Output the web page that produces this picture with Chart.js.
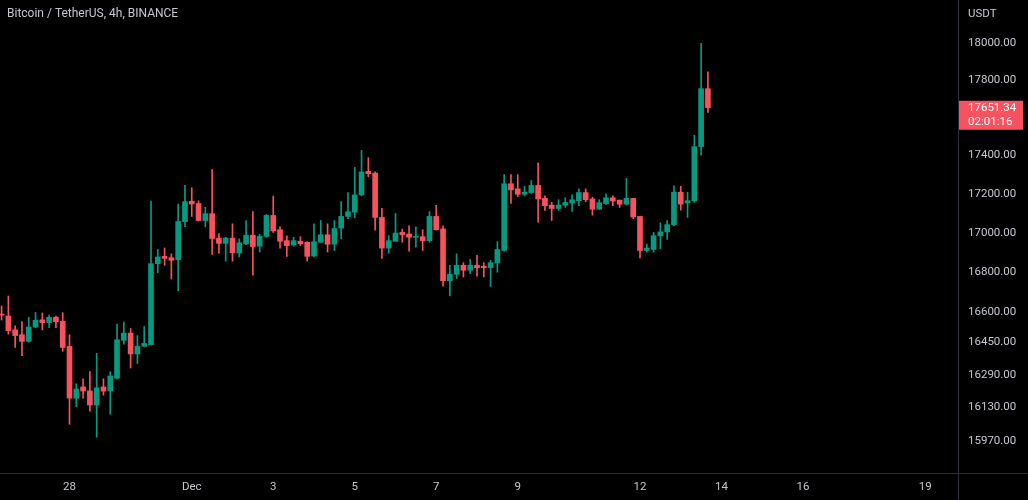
<!doctype html>
<html lang="en">
<head>
<meta charset="utf-8">
<title>Bitcoin / TetherUS, 4h, BINANCE</title>
<script src="https://cdn.jsdelivr.net/npm/chart.js@4.4.0/dist/chart.umd.min.js"></script>
<style>
  html, body { margin: 0; padding: 0; background: #000; }
  #wrap { width: 1028px; height: 500px; }
</style>
</head>
<body>
<div id="wrap"><canvas id="btc"></canvas></div>
<script>
// 4h candles, Nov 26 08:00 .. Dec 13 16:00
const openP = [16590,16580,16511,16487,16454,16525,16561,16547,16574,16554,
  16429,16175,16230,16211,16142,16230,16211,16273,16459,16495,
  16392,16430,16438,16843,16880,16873,16863,17057,17162,17150,
  17063,17098,16973,16946,16973,16897,16944,16988,16932,16982,
  17089,17016,16960,16938,16957,16952,16882,16952,16990,16942,
  17024,17084,17106,17195,17317,17308,17079,16922,16957,17002,
  16994,16977,16980,16960,17084,17020,16757,16790,16835,16810,
  16835,16830,16823,16846,16910,17253,17226,17198,17207,17244,
  17177,17142,17125,17142,17153,17165,17207,17174,17121,17150,
  17180,17168,17147,17177,17084,16910,16915,16985,17005,17041,
  17209,17153,17164,17446,17753];
const highP = [16630,16680,16531,16552,16574,16598,16595,16585,16580,16597,
  16487,16246,16270,16305,16395,16270,16305,16540,16550,16518,
  16483,16528,17163,16915,16923,16893,17148,17245,17232,17164,
  17131,17326,16996,16977,17046,16969,17063,17109,16993,17094,
  17189,17031,16985,16977,16980,16955,17046,17063,17046,17063,
  17160,17207,17338,17426,17388,17314,17125,16985,17099,17019,
  17036,17031,17016,17109,17141,17036,16835,16893,16848,16864,
  16885,16848,16860,16955,17300,17300,17300,17240,17269,17362,
  17190,17157,17170,17180,17195,17226,17226,17183,17170,17200,
  17190,17168,17280,17177,17084,16943,17002,17051,17063,17242,
  17240,17209,17506,17997,17843];
const lowP = [16560,16490,16424,16384,16450,16522,16511,16522,16522,16405,
  16049,16134,16176,16113,15987,16190,16098,16270,16440,16323,
  16345,16430,16437,16797,16835,16765,16707,17031,17084,17060,
  17031,16890,16896,16856,16856,16877,16940,16785,16902,16977,
  17002,16922,16880,16932,16935,16856,16877,16952,16902,16910,
  16969,17072,17077,17191,17289,17014,16870,16897,16957,16952,
  16907,16927,16910,16952,17014,16730,16680,16768,16776,16793,
  16780,16776,16728,16800,16906,17151,17186,17190,17204,17054,
  17115,17063,17115,17130,17110,17139,17160,17090,17121,17146,
  17139,17130,17142,17072,16872,16902,16902,16918,16966,17037,
  17116,17079,17156,17402,17626];
const closeP = [16585,16507,16483,16454,16525,16559,16547,16574,16552,16424,
  16176,16220,16210,16142,16226,16210,16284,16462,16495,16392,
  16430,16444,16843,16877,16870,16860,17058,17160,17148,17063,
  17098,16971,16946,16973,16898,16949,16988,16930,16982,17089,
  17010,16957,16935,16960,16944,16880,16955,16990,16942,17022,
  17084,17108,17195,17314,17305,17079,16922,16960,16999,16990,
  16977,16980,16960,17084,17016,16757,16790,16835,16810,16835,
  16823,16823,16848,16915,17253,17221,17198,17209,17244,17174,
  17139,17125,17142,17156,17170,17207,17170,17121,17155,17180,
  17163,17147,17177,17081,16910,16922,16985,17005,17042,17209,
  17147,17165,17446,17753,17651.34];

const priceTicks = [15970,16130,16290,16450,16600,16800,17000,17200,17400,17600,17800,18000];
// x axis is counted in days from Nov 28 00:00
const dayTicks = [0,3,5,7,9,11,14,16,18,21];
const dayLabels = ['28','Dec','3','5','7','9','12','14','16','19'];
const firstCandleDay = -10/6;
const candleStep = 4/24;
const countdown = '02:01:16';

const UP = '#089981', DOWN = '#f7525f';
const TEXT = '#c4c7cf', LINE = '#2a2e39';
const FONT = 'Roboto, "Liberation Sans", sans-serif';

const xs = openP.map((_, i) => firstCandleDay + i * candleStep);
const colorOf = i => closeP[i] >= openP[i] ? UP : DOWN;
const wicks = xs.map((x, i) => ({x: x, y: [lowP[i], highP[i]]}));
const bodies = xs.map((x, i) => ({x: x, y: [Math.min(openP[i], closeP[i]), Math.max(openP[i], closeP[i])]}));

// no edge padding for the tick labels, the plot runs to the canvas edges
function noPad(s) {
  s.paddingTop = 0; s.paddingBottom = 0; s.paddingLeft = 0; s.paddingRight = 0;
}

const overlay = {
  id: 'overlay',
  afterDraw(chart) {
    const ctx = chart.ctx, area = chart.chartArea;
    ctx.save();
    ctx.strokeStyle = LINE;
    ctx.lineWidth = 1;
    ctx.beginPath();
    ctx.moveTo(Math.round(area.right) + 0.5, 0);
    ctx.lineTo(Math.round(area.right) + 0.5, chart.height);
    ctx.moveTo(0, Math.round(area.bottom) + 0.5);
    ctx.lineTo(chart.width, Math.round(area.bottom) + 0.5);
    ctx.stroke();

    ctx.fillStyle = TEXT;
    ctx.textAlign = 'left';
    ctx.textBaseline = 'middle';
    ctx.font = '12px ' + FONT;
    ctx.fillText('Bitcoin / TetherUS, 4h, BINANCE', 7, 14);
    ctx.font = '11.5px ' + FONT;
    ctx.fillText('USDT', area.right + 10, 14);

    const last = closeP.length - 1;
    const y = chart.scales.y.getPixelForValue(closeP[last]);
    ctx.fillStyle = colorOf(last);
    ctx.fillRect(area.right + 1, y - 7, 64, 29);
    ctx.fillStyle = '#ffffff';
    ctx.fillText(closeP[last].toFixed(2), area.right + 10, y);
    ctx.fillText(countdown, area.right + 10, y + 14);
    ctx.restore();
  }
};

new Chart(document.getElementById('btc'), {
  type: 'bar',
  data: {
    datasets: [
      {
        data: wicks,
        grouped: false,
        barThickness: 1,
        backgroundColor: c => colorOf(c.dataIndex)
      },
      {
        data: bodies,
        grouped: false,
        barThickness: 5,
        minBarLength: 1,
        backgroundColor: c => colorOf(c.dataIndex)
      }
    ]
  },
  options: {
    responsive: true,
    maintainAspectRatio: false,
    animation: false,
    layout: { padding: 0 },
    plugins: { legend: { display: false }, tooltip: { enabled: false } },
    scales: {
      x: {
        type: 'linear',
        offset: false,
        min: -69.5 / 40.75,
        max: 888.5 / 40.75,
        grid: { display: false, drawTicks: false },
        border: { display: false },
        afterFit: s => { s.height = 27; noPad(s); },
        afterBuildTicks: s => { s.ticks = dayTicks.map(v => ({value: v})); },
        ticks: {
          color: TEXT,
          font: { family: FONT, size: 11.5 },
          padding: 7,
          maxRotation: 0,
          autoSkip: false,
          callback: v => dayLabels[dayTicks.indexOf(v)]
        }
      },
      y: {
        type: 'logarithmic',
        position: 'right',
        min: 15815.7,
        max: 18232.6,
        grid: { display: false, drawTicks: false },
        border: { display: false },
        afterFit: s => { s.width = 70; noPad(s); },
        afterBuildTicks: s => { s.ticks = priceTicks.map(v => ({value: v})); },
        ticks: {
          color: TEXT,
          font: { family: FONT, size: 11.5 },
          padding: 10,
          autoSkip: false,
          callback: v => Number(v).toFixed(2)
        }
      }
    }
  },
  plugins: [overlay]
});
</script>
</body>
</html>
